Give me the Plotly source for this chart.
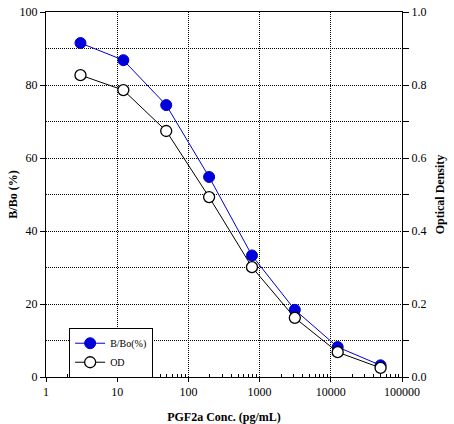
import plotly.graph_objects as go

# standard curve data
conc = [3.05, 12.2, 48.8, 195.3, 781.25, 3125, 12500, 50000]
bbo_pct = [91.5, 86.8, 74.5, 54.8, 33.3, 18.4, 8.2, 3.2]
od = [0.827, 0.786, 0.674, 0.493, 0.301, 0.162, 0.068, 0.025]

x_tickvals = [1, 10, 100, 1000, 10000, 100000]
x_ticktext = ['1', '10', '100', '1000', '10000', '100000']
x_minor = [m * d for d in [1, 10, 100, 1000, 10000] for m in range(2, 10)]

serif = 'Liberation Serif'
dots = '1px,1px'

fig = go.Figure()

fig.add_trace(go.Scatter(
    x=conc, y=bbo_pct, name='B/Bo(%)', mode='lines+markers',
    line=dict(color='#0000cc', width=1),
    marker=dict(symbol='circle', size=11, color='#0000dd',
                line=dict(color='#0000cc', width=1)),
))
fig.add_trace(go.Scatter(
    x=conc, y=od, name='OD', mode='lines+markers', yaxis='y2',
    line=dict(color='black', width=1),
    marker=dict(symbol='circle', size=11, color='white',
                line=dict(color='black', width=1.3)),
))

fig.update_layout(
    width=454, height=424,
    margin=dict(l=46, r=52, t=12, b=47, autoexpand=False),
    paper_bgcolor='white', plot_bgcolor='white',
    font=dict(family=serif, size=12, color='black'),
    showlegend=True,
    legend=dict(
        x=0.065, y=0.135, xanchor='left', yanchor='top',
        bgcolor='white', bordercolor='black', borderwidth=1,
        font=dict(family=serif, size=10),
        tracegroupgap=0, itemwidth=30,
    ),
    xaxis=dict(
        type='log', range=[0, 5], automargin=False,
        tickmode='array', tickvals=x_tickvals, ticktext=x_ticktext,
        ticks='outside', ticklen=4, tickcolor='black',
        showline=True, linecolor='black', linewidth=1, mirror=True,
        showgrid=True, gridcolor='black', griddash=dots, gridwidth=1,
        zeroline=False,
        minor=dict(tickmode='array', tickvals=x_minor, ticks='inside',
                   ticklen=3, tickcolor='black', showgrid=False),
        title=dict(text='<b>PGF2a Conc. (pg/mL)</b>', standoff=14,
                   font=dict(family=serif, size=12)),
    ),
    yaxis=dict(
        range=[0, 100], dtick=20, automargin=False,
        ticks='outside', ticklen=5, tickcolor='black',
        showline=True, linecolor='black', linewidth=1,
        showgrid=True, gridcolor='black', griddash=dots, gridwidth=1,
        zeroline=False,
        minor=dict(dtick=10, ticks='', showgrid=True,
                   gridcolor='black', griddash=dots, gridwidth=1),
    ),
    yaxis2=dict(
        overlaying='y', side='right',
        range=[0, 1], dtick=0.2, tickformat='.1f', automargin=False,
        ticks='outside', ticklen=6, tickcolor='black',
        showline=True, linecolor='black', linewidth=1,
        showgrid=False, zeroline=False,
        minor=dict(dtick=0.1, ticks='outside', ticklen=6,
                   tickcolor='black', showgrid=False),
        title=dict(text='<b>Optical Density</b>', standoff=10,
                   font=dict(family=serif, size=12)),
    ),
)

# left axis title placed as an annotation so it sits where the original has it
fig.add_annotation(
    text='<b>B/Bo (%)</b>', textangle=-90, showarrow=False,
    xref='paper', yref='paper', x=-0.095, y=0.5,
    xanchor='center', yanchor='middle',
    font=dict(family=serif, size=12),
)

# page body has a default 8px margin; drop it so the figure sits at 0,0
fig.write_html("out.html", config={'displayModeBar': False},
               post_script="document.body.style.margin = '0';")
